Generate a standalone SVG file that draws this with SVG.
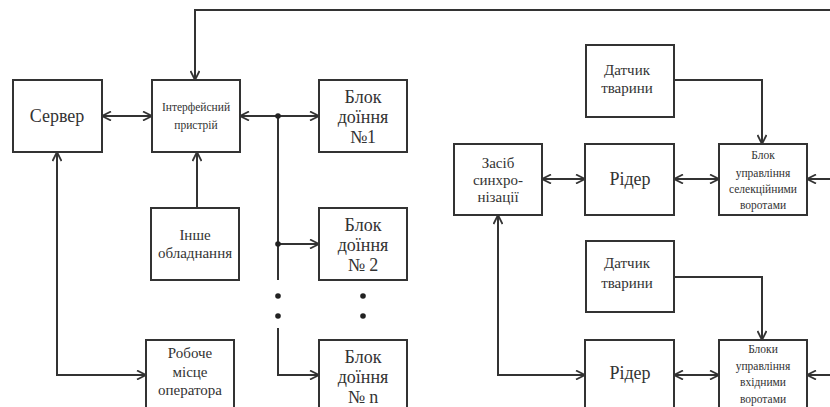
<svg xmlns="http://www.w3.org/2000/svg" width="830" height="407" viewBox="0 0 830 407" font-family="'Liberation Serif','DejaVu Serif',serif">
<defs>
<style>
.box{fill:#fff;stroke:#333;stroke-width:2}
.ln{fill:none;stroke:#333;stroke-width:2}
text{font-family:'Liberation Serif','Times New Roman','DejaVu Serif',serif;fill:#333;text-anchor:middle}
.b{font-size:18px}
.m{font-size:15px}
.s{font-size:11.5px}
</style>
<marker id="ah" viewBox="0 0 10 10" refX="10" refY="5" markerWidth="10" markerHeight="10" markerUnits="userSpaceOnUse" orient="auto-start-reverse">
<polyline points="1,0.5 10,5 1,9.5" fill="none" stroke="#333" stroke-width="1.8"/>
</marker>
</defs>
<rect width="830" height="407" fill="#fff"/>
<g id="connectors">
<path class="ln" d="M830,10 H195 V80" marker-end="url(#ah)"/>
<path class="ln" d="M102,116 H152" marker-start="url(#ah)" marker-end="url(#ah)"/>
<path class="ln" d="M240,116 H278" marker-start="url(#ah)"/>
<path class="ln" d="M278,116 H319" marker-end="url(#ah)"/>
<path class="ln" d="M278,116 V280"/>
<path class="ln" d="M278,244 H319" marker-end="url(#ah)"/>
<path class="ln" d="M278,328 V375 H319" marker-end="url(#ah)"/>
<path class="ln" d="M197,208 V152" marker-end="url(#ah)"/>
<path class="ln" d="M57,152 V375 H146" marker-start="url(#ah)" marker-end="url(#ah)"/>
<circle cx="278" cy="116" r="2.8" fill="#222"/>
<circle cx="278" cy="244" r="2.8" fill="#222"/>
<circle cx="278" cy="296" r="2.8" fill="#222"/>
<circle cx="278" cy="316" r="2.8" fill="#222"/>
<circle cx="363" cy="296" r="2.8" fill="#222"/>
<circle cx="363" cy="316" r="2.8" fill="#222"/>
<path class="ln" d="M542,179 H585" marker-start="url(#ah)" marker-end="url(#ah)"/>
<path class="ln" d="M674,179 H719" marker-start="url(#ah)" marker-end="url(#ah)"/>
<path class="ln" d="M830,179 H807" marker-end="url(#ah)"/>
<path class="ln" d="M674,80 H762 V144" marker-end="url(#ah)"/>
<path class="ln" d="M498,215 V375 H585" marker-start="url(#ah)" marker-end="url(#ah)"/>
<path class="ln" d="M674,277 H762 V340" marker-end="url(#ah)"/>
<path class="ln" d="M674,375 H719" marker-start="url(#ah)" marker-end="url(#ah)"/>
<path class="ln" d="M830,375 H807" marker-end="url(#ah)"/>
</g>
<g id="server"><rect class="box" x="13" y="80" width="89" height="72"/><text class="b" x="57" y="122">Сервер</text></g>
<g id="interface"><rect class="box" x="152" y="80" width="88" height="72"/><text class="s" x="196" y="111">Інтерфейсний</text><text class="s" x="196" y="129">пристрій</text></g>
<g id="milk1"><rect class="box" x="319" y="80" width="88" height="72"/><text class="b" x="363" y="103">Блок</text><text class="b" x="363" y="123">доїння</text><text class="b" x="363" y="143">№1</text></g>
<g id="other"><rect class="box" x="151" y="208" width="88" height="72"/><text class="m" x="195" y="240">Інше</text><text class="m" x="195" y="258">обладнання</text></g>
<g id="milk2"><rect class="box" x="319" y="208" width="88" height="72"/><text class="b" x="363" y="231">Блок</text><text class="b" x="363" y="251">доїння</text><text class="b" x="363" y="271">№ 2</text></g>
<g id="operator"><rect class="box" x="146" y="340" width="88" height="80"/><text class="m" x="190" y="358">Робоче</text><text class="m" x="190" y="377">місце</text><text class="m" x="190" y="395">оператора</text></g>
<g id="milkn"><rect class="box" x="319" y="340" width="88" height="80"/><text class="b" x="363" y="363">Блок</text><text class="b" x="363" y="383">доїння</text><text class="b" x="363" y="403">№ n</text></g>
<g id="sensor1"><rect class="box" x="586" y="45" width="88" height="72"/><text class="m" x="627" y="75">Датчик</text><text class="m" x="627" y="93">тварини</text></g>
<g id="sync"><rect class="box" x="454" y="144" width="88" height="71"/><text class="m" x="498" y="168">Засіб</text><text class="m" x="498" y="185">синхро-</text><text class="m" x="498" y="202">нізації</text></g>
<g id="reader1"><rect class="box" x="585" y="144" width="89" height="71"/><text class="b" x="630" y="185">Рідер</text></g>
<g id="selgate"><rect class="box" x="719" y="144" width="88" height="71"/><text class="s" x="763" y="159">Блок</text><text class="s" x="763" y="177">управління</text><text class="s" x="763" y="193">селекційними</text><text class="s" x="763" y="209">воротами</text></g>
<g id="sensor2"><rect class="box" x="586" y="241" width="88" height="71"/><text class="m" x="627" y="268">Датчик</text><text class="m" x="627" y="288">тварини</text></g>
<g id="reader2"><rect class="box" x="585" y="340" width="89" height="80"/><text class="b" x="630" y="379">Рідер</text></g>
<g id="ingate"><rect class="box" x="719" y="340" width="88" height="80"/><text class="s" x="763" y="353">Блоки</text><text class="s" x="763" y="370">управління</text><text class="s" x="763" y="386">вхідними</text><text class="s" x="763" y="403">воротами</text></g>
</svg>
